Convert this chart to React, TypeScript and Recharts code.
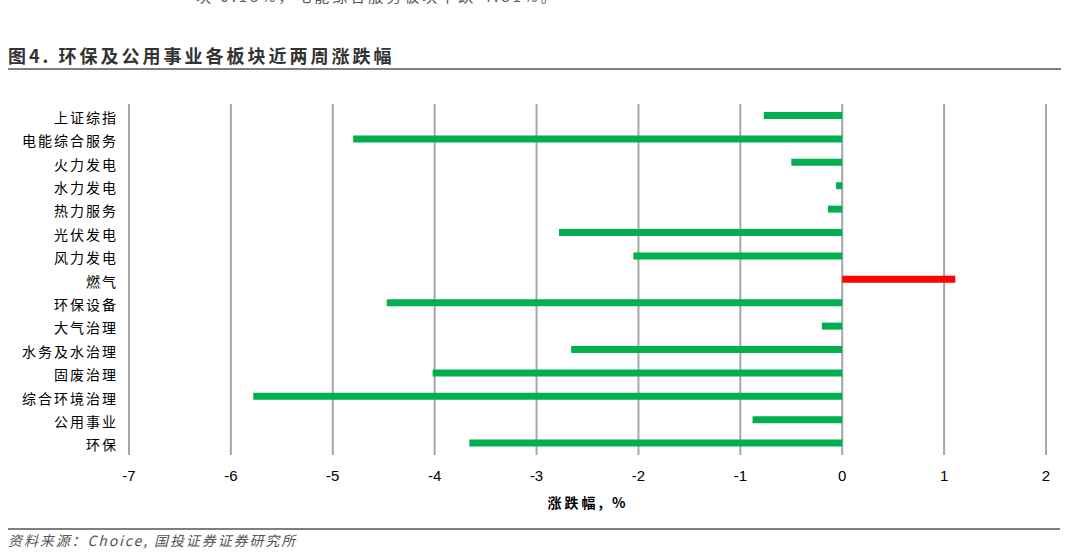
import { BarChart, Bar, XAxis, YAxis, CartesianGrid, Cell } from 'recharts';

const categories = [
  '上证综指',
  '电能综合服务',
  '火力发电',
  '水力发电',
  '热力服务',
  '光伏发电',
  '风力发电',
  '燃气',
  '环保设备',
  '大气治理',
  '水务及水治理',
  '固废治理',
  '综合环境治理',
  '公用事业',
  '环保',
];

const changes = [-0.77, -4.8, -0.5, -0.06, -0.14, -2.78, -2.05, 1.11, -4.47, -0.2, -2.66, -4.02, -5.78, -0.88, -3.66];

const xTicks = [-7, -6, -5, -4, -3, -2, -1, 0, 1, 2];

const data = categories.map((name, i) => ({ name, value: changes[i] }));

const CJK = '"Noto Sans CJK SC", "Noto Sans", sans-serif';

// category label with the loose spacing of the original
const CategoryTick = ({ x, y, payload }: any) => (
  <text
    x={x}
    y={y}
    dy={7}
    textAnchor="end"
    fontSize={14}
    fill="#000"
    fontFamily={CJK}
    letterSpacing={2}
  >
    {payload.value}
  </text>
);

export default function App() {
  return (
    <div style={{ position: 'absolute', left: 0, top: 0, width: 1067, height: 552, background: '#fff', overflow: 'hidden' }}>
      {/* cut-off sentence from the page above */}
      <div
        style={{
          position: 'absolute',
          left: 196,
          top: -15,
          fontFamily: CJK,
          fontSize: 15,
          color: '#555',
          letterSpacing: 3,
          whiteSpace: 'nowrap',
        }}
      >
        块 0.15%，电能综合服务板块下跌 4.81%。
      </div>

      <div
        style={{
          position: 'absolute',
          left: 8,
          top: 42,
          fontFamily: CJK,
          fontSize: 18,
          fontWeight: 700,
          color: '#333',
          letterSpacing: 3,
          whiteSpace: 'nowrap',
        }}
      >
        图4. 环保及公用事业各板块近两周涨跌幅
      </div>
      <div style={{ position: 'absolute', left: 8, top: 68, width: 1053, height: 2, background: '#7f7f7f' }} />

      <div style={{ position: 'absolute', left: 0, top: 0 }}>
        <BarChart
          width={1067}
          height={552}
          data={data}
          layout="vertical"
          margin={{ top: 104, right: 21, bottom: 67, left: 0 }}
        >
          <CartesianGrid vertical horizontal={false} stroke="#a6a6a6" strokeWidth={2} />
          <XAxis
            type="number"
            domain={[-7, 2]}
            ticks={xTicks}
            interval={0}
            axisLine={false}
            tickLine={false}
            tickMargin={9}
            height={30}
            tick={{ fontSize: 15, fill: '#000', fontFamily: '"Liberation Sans", Arial, sans-serif' }}
          />
          <YAxis
            type="category"
            dataKey="name"
            width={129}
            axisLine={false}
            tickLine={false}
            tickMargin={5}
            interval={0}
            tick={<CategoryTick />}
          />
          <Bar dataKey="value" barSize={7} isAnimationActive={false}>
            {data.map((d) => (
              <Cell key={d.name} fill={d.value >= 0 ? '#ff0000' : '#00b050'} />
            ))}
          </Bar>
        </BarChart>
      </div>

      <div
        style={{
          position: 'absolute',
          left: 538,
          top: 492,
          width: 100,
          textAlign: 'center',
          fontFamily: CJK,
          fontSize: 14,
          fontWeight: 700,
          color: '#000',
          letterSpacing: 3,
          whiteSpace: 'nowrap',
        }}
      >
        涨跌幅, %
      </div>

      <div style={{ position: 'absolute', left: 8, top: 528, width: 1052, height: 2, background: '#7f7f7f' }} />
      <div
        style={{
          position: 'absolute',
          left: 8,
          top: 530,
          fontFamily: CJK,
          fontSize: 14,
          fontStyle: 'italic',
          color: '#555',
          letterSpacing: 1.9,
          whiteSpace: 'nowrap',
        }}
      >
        资料来源：Choice, 国投证券证券研究所
      </div>
    </div>
  );
}
